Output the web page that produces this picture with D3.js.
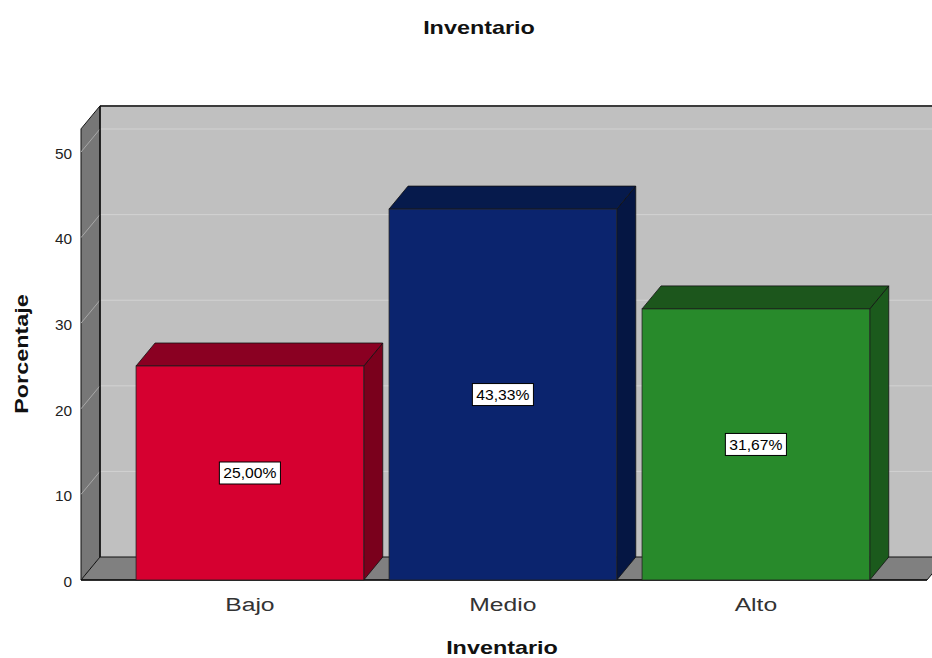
<!DOCTYPE html>
<html>
<head>
<meta charset="utf-8">
<script src="https://cdn.jsdelivr.net/npm/d3@7"></script>
<style>
  html, body { margin: 0; padding: 0; background: #ffffff; }
  svg { display: block; font-family: "Liberation Sans", Arial, sans-serif; }
</style>
</head>
<body>
<svg id="chart" width="932" height="658"></svg>
<script>
// ---- data ----
const categories = ["Bajo", "Medio", "Alto"];
const values = [25.00, 43.33, 31.67];
const valueLabels = ["25,00%", "43,33%", "31,67%"];
const yTicks = [0, 10, 20, 30, 40, 50];
const chartTitle = "Inventario";
const xTitle = "Inventario";
const yTitle = "Porcentaje";

// ---- styles ----
const frontColors = ["#d60030", "#0b246e", "#288a2b"];
const topColors = ["#8a0022", "#061a4c", "#1c561c"];
const sideColors = ["#7a001c", "#051643", "#1b5a1c"];

const svg = d3.select("#chart");
const W = 932, H = 658;
const dx = 19, dy = -23;       // depth offset
const wallTop = 52.7;

const y = d3.scaleLinear().domain([0, 50]).range([580, 152]);
const x = d3.scaleBand().domain(categories).range([123.4, 882.4])
  .paddingInner(0.1).paddingOuter(0.05);

const x0 = 81, x1 = 927; // front extent of floor
const y0 = y(0);

// helper: horizontally stretched text (reference glyphs are widened)
function stext(parent, px, py, str, opts) {
  const sx = opts.sx || 1, rot = opts.rot || 0;
  const t = parent.append("text")
    .attr("transform", `translate(${px},${py}) rotate(${rot}) scale(${sx},1)`)
    .attr("x", 0).attr("y", 0)
    .attr("text-anchor", opts.anchor || "middle")
    .attr("dominant-baseline", "central")
    .attr("font-size", opts.size)
    .attr("font-weight", opts.weight || "normal")
    .attr("fill", opts.fill || "#111")
    .text(str);
  return t;
}

// back wall
svg.append("rect")
  .attr("x", x0 + dx).attr("y", y(wallTop) + dy)
  .attr("width", W).attr("height", y0 - y(wallTop))
  .attr("fill", "#c0c0c0");

// back wall gridlines
svg.selectAll(".grid").data(yTicks.filter(d => d > 0)).enter().append("line")
  .attr("x1", x0 + dx).attr("x2", W)
  .attr("y1", d => y(d) + dy).attr("y2", d => y(d) + dy)
  .attr("stroke", "#d2d2d2").attr("stroke-width", 1);

// back wall top edge
svg.append("line")
  .attr("x1", x0 + dx).attr("x2", W)
  .attr("y1", y(wallTop) + dy).attr("y2", y(wallTop) + dy)
  .attr("stroke", "#3c3c3c").attr("stroke-width", 2);

// left wall
svg.append("polygon")
  .attr("points", [[x0, y(wallTop)], [x0 + dx, y(wallTop) + dy], [x0 + dx, y0 + dy], [x0, y0]].join(" "))
  .attr("fill", "#777777").attr("stroke", "#111").attr("stroke-width", 1);

// side gridlines
svg.selectAll(".sgrid").data(yTicks).enter().append("line")
  .attr("x1", x0).attr("x2", x0 + dx)
  .attr("y1", d => y(d)).attr("y2", d => y(d) + dy)
  .attr("stroke", "#a8a8a8").attr("stroke-width", 1);

// back-left vertical edge
svg.append("line")
  .attr("x1", x0 + dx).attr("x2", x0 + dx)
  .attr("y1", y(wallTop) + dy).attr("y2", y0 + dy)
  .attr("stroke", "#111").attr("stroke-width", 1.5);

// floor
svg.append("polygon")
  .attr("points", [[x0, y0], [x0 + dx, y0 + dy], [x1 + dx, y0 + dy], [x1, y0]].join(" "))
  .attr("fill", "#808080").attr("stroke", "#111").attr("stroke-width", 1);
svg.append("line")
  .attr("x1", x0).attr("x2", x1).attr("y1", y0).attr("y2", y0)
  .attr("stroke", "#111").attr("stroke-width", 1.5);

// bars
const bars = svg.selectAll(".bar").data(categories).enter().append("g");
bars.each(function (c, i) {
  const g = d3.select(this);
  const bx = x(c), bw = x.bandwidth(), bt = y(values[i]);
  // side
  g.append("polygon")
    .attr("points", [[bx + bw, bt], [bx + bw + dx, bt + dy], [bx + bw + dx, y0 + dy], [bx + bw, y0]].join(" "))
    .attr("fill", sideColors[i]).attr("stroke", "#111").attr("stroke-width", 0.8);
  // top
  g.append("polygon")
    .attr("points", [[bx, bt], [bx + dx, bt + dy], [bx + bw + dx, bt + dy], [bx + bw, bt]].join(" "))
    .attr("fill", topColors[i]).attr("stroke", "#111").attr("stroke-width", 0.8);
  // front
  g.append("rect")
    .attr("x", bx).attr("y", bt).attr("width", bw).attr("height", y0 - bt)
    .attr("fill", frontColors[i]).attr("stroke", "#222").attr("stroke-width", 0.8);
  // value label
  const cx = bx + bw / 2, cy = (bt + y0) / 2;
  const sx = 1.08;
  const box = g.append("rect");
  const t = stext(g, cx, cy, valueLabels[i], { size: 14.5, sx: sx, fill: "#000" });
  const bb = t.node().getBBox();
  const w = bb.width * sx + 8;
  box.attr("x", cx - w / 2).attr("y", cy - 11).attr("width", w).attr("height", 22)
    .attr("fill", "#fff").attr("stroke", "#000").attr("stroke-width", 1);
});

// y tick labels
yTicks.forEach(d => {
  stext(svg, 72, y(d) + 2, String(d), { size: 14, sx: 1.1, anchor: "end", fill: "#222" });
});

// x category labels
categories.forEach(c => {
  stext(svg, x(c) + x.bandwidth() / 2, 605, c, { size: 19, sx: 1.3, fill: "#333" });
});

// titles
stext(svg, 479, 28, chartTitle, { size: 18, sx: 1.3, weight: "bold" });
stext(svg, 502, 648, xTitle, { size: 18, sx: 1.3, weight: "bold" });
stext(svg, 22, 354, yTitle, { size: 18, sx: 1.3, weight: "bold", rot: -90 });
</script>
</body>
</html>
